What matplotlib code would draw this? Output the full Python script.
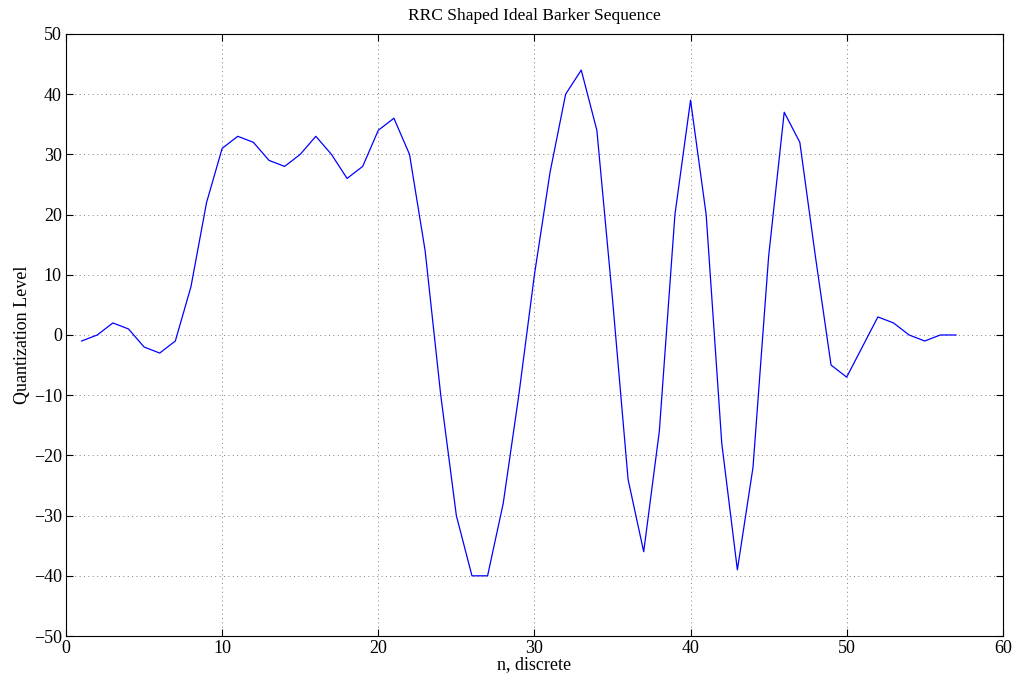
import numpy as np
import matplotlib.pyplot as plt

plt.rcParams['font.family'] = ['Liberation Serif', 'DejaVu Serif']

# sample index and quantized RRC-shaped Barker values
n = np.arange(1, 58)
level = [-1, 0, 2, 1, -2, -3, -1, 8, 22, 31,
         33, 32, 29, 28, 30, 33, 30, 26, 28, 34,
         36, 30, 14, -10, -30, -40, -40, -28, -10, 10,
         27, 40, 44, 34, 6, -24, -36, -16, 20, 39,
         20, -18, -39, -22, 13, 37, 32, 13, -5, -7,
         -2, 3, 2, 0, -1, 0, 0]

x_ticks = [0, 10, 20, 30, 40, 50, 60]
y_ticks = [-50, -40, -30, -20, -10, 0, 10, 20, 30, 40, 50]

fig = plt.figure(figsize=(10.16, 6.79), dpi=100)
ax = fig.add_axes([0.065, 0.0633, 0.922, 0.8867])

ax.plot(n, level, color='blue', linewidth=0.9)

ax.set_xlim(0, 60)
ax.set_ylim(-50, 50)
ax.set_xticks(x_ticks)
ax.set_yticks(y_ticks)
ax.tick_params(direction='in', top=True, right=True, length=5, labelsize=13, pad=3)
ax.grid(True, linestyle=(0, (1, 3.5)), color='0.5', linewidth=0.7)
for s in ax.spines.values():
    s.set_linewidth(0.8)

ax.set_title('RRC Shaped Ideal Barker Sequence', fontsize=12.5, pad=10)
ax.set_xlabel('n, discrete', fontsize=13, labelpad=-1)
ax.set_ylabel('Quantization Level', fontsize=13, labelpad=2)

fig.savefig('out.png', dpi=100)
